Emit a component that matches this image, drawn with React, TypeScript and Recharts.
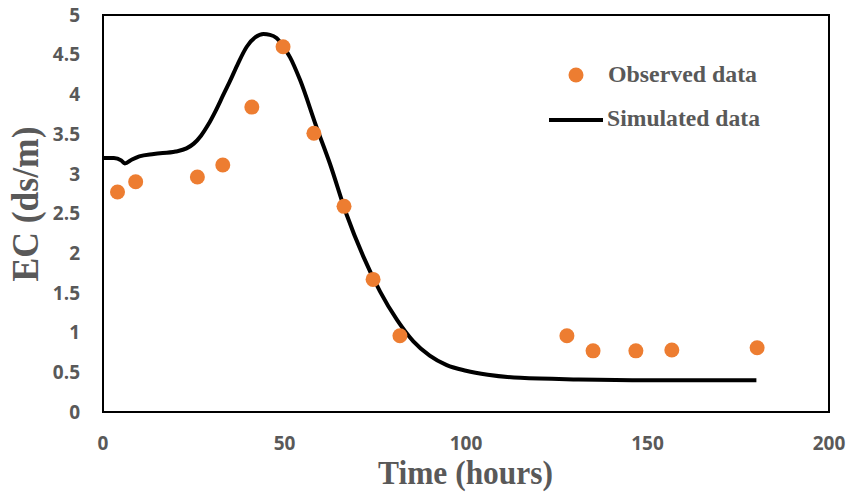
import { ComposedChart, Line, Scatter, XAxis, YAxis, ReferenceArea } from 'recharts';

// observed EC values (hours, ds/m)
const obsTime = [4, 9, 26, 33, 41, 49.6, 58.1, 66.4, 74.4, 81.8, 127.8, 135, 146.8, 156.7, 180.2];
const obsEC = [2.77, 2.9, 2.96, 3.11, 3.84, 4.6, 3.51, 2.59, 1.67, 0.96, 0.96, 0.77, 0.77, 0.78, 0.81];

// simulated curve
const simTime = [0, 3, 5, 6, 8, 10, 14, 20, 23, 25, 27, 29, 31, 33, 35, 37, 39.6, 42, 44.2, 46, 47.8, 49.7, 51.5, 54.3, 58.8, 62.5, 67, 71.7, 76.3, 81, 85.5, 90, 94.7, 100, 106, 115, 131, 150, 180];
const simEC = [3.2, 3.2, 3.17, 3.13, 3.18, 3.22, 3.25, 3.28, 3.32, 3.38, 3.48, 3.62, 3.79, 3.98, 4.17, 4.37, 4.6, 4.72, 4.76, 4.75, 4.71, 4.6, 4.47, 4.18, 3.59, 3.13, 2.5, 1.96, 1.52, 1.16, 0.89, 0.71, 0.59, 0.52, 0.47, 0.43, 0.41, 0.4, 0.4];

const xTicks = [0, 50, 100, 150, 200];
const yTicks = [0, 0.5, 1, 1.5, 2, 2.5, 3, 3.5, 4, 4.5, 5];

const observed = obsTime.map((t, i) => ({ t, ec: obsEC[i] }));
const simulated = simTime.map((t, i) => ({ t, ec: simEC[i] }));

const gray = '#595959';
const orange = '#ED7D31';
const tickStyle = { fontFamily: '"Open Sans"', fontWeight: 700, fontSize: 19, fill: gray };
const titleFont = '"Liberation Serif", "Times New Roman", serif';

export default function App() {
    return (
        <div style={{ position: 'absolute', left: 0, top: 0, width: 851, height: 493, background: '#fff' }}>
            <ComposedChart width={851} height={493} margin={{ top: 15, right: 22, bottom: 41, left: 43 }}>
                <XAxis
                    type="number"
                    dataKey="t"
                    domain={[0, 200]}
                    ticks={xTicks}
                    height={40}
                    tick={tickStyle}
                    tickLine={false}
                    axisLine={false}
                    tickSize={0}
                    tickMargin={25}
                    allowDataOverflow
                />
                <YAxis
                    type="number"
                    dataKey="ec"
                    domain={[0, 5]}
                    ticks={yTicks}
                    width={60}
                    tick={tickStyle}
                    tickLine={false}
                    axisLine={false}
                    tickSize={0}
                    tickMargin={23}
                    allowDataOverflow
                />
                <ReferenceArea x1={0} x2={200} y1={0} y2={5} fill="none" fillOpacity={0} stroke="#000" strokeWidth={2} strokeOpacity={1} />
                <Line
                    data={simulated}
                    dataKey="ec"
                    type="monotone"
                    stroke="#000"
                    strokeWidth={4}
                    dot={false}
                    activeDot={false}
                    isAnimationActive={false}
                />
                <Scatter data={observed} dataKey="ec" fill={orange} shape={(p: any) => <circle cx={p.cx} cy={p.cy} r={7.5} fill={orange} />} isAnimationActive={false} />
            </ComposedChart>
            <svg width={851} height={493} style={{ position: 'absolute', left: 0, top: 0, pointerEvents: 'none' }}>
                {/* legend */}
                <circle cx={576} cy={75} r={7.5} fill={orange} />
                <text x={608} y={82} fontFamily={titleFont} fontWeight={700} fontSize={24} fill={gray} textLength={149} lengthAdjust="spacingAndGlyphs">Observed data</text>
                <line x1={549} y1={120} x2={603} y2={120} stroke="#000" strokeWidth={4} />
                <text x={607} y={126} fontFamily={titleFont} fontWeight={700} fontSize={24} fill={gray} textLength={153} lengthAdjust="spacingAndGlyphs">Simulated data</text>
                {/* axis titles */}
                <text x={465.5} y={484} textAnchor="middle" fontFamily={titleFont} fontWeight={700} fontSize={34} fill={gray} textLength={175} lengthAdjust="spacingAndGlyphs">Time (hours)</text>
                <text transform="translate(38,204) rotate(-90)" x={0} y={0} textAnchor="middle" fontFamily={titleFont} fontWeight={700} fontSize={37} fill={gray} textLength={155} lengthAdjust="spacingAndGlyphs">EC (ds/m)</text>
            </svg>
        </div>
    );
}
